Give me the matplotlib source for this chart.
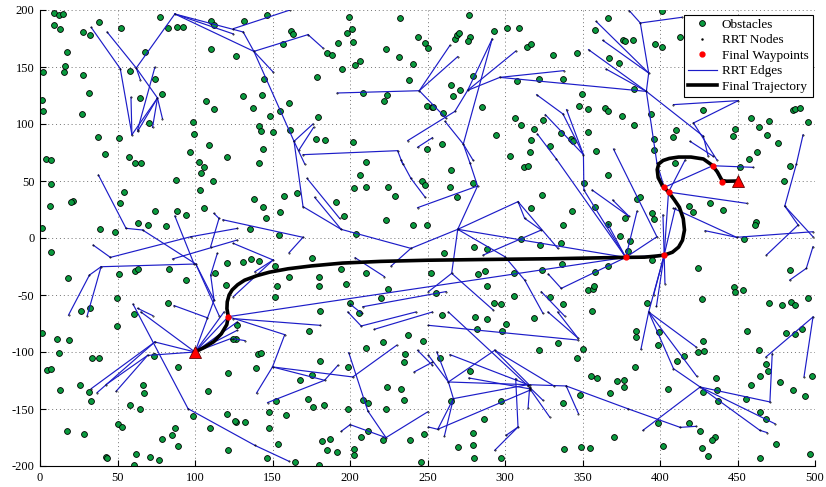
import numpy as np
import matplotlib
matplotlib.use("Agg")
import matplotlib.pyplot as plt
from matplotlib.lines import Line2D

plt.rcParams['font.family'] = ['Liberation Serif', 'DejaVu Serif']
plt.rcParams['axes.unicode_minus'] = False

# ---------------- data ----------------
obstacles = [
    (9,197.7),(12,195.9),(15,196.5),(9,186.5),(12.6,183.6),(38.3,189.5),(27.8,180.7),(32.1,177.8),(52.3,184.5),
    (77.1,193.6),(82.9,184.5),(88.7,184.8),(92.3,184.8),(110.1,190.6),(112.2,187.1),(17.3,162.8),(16.3,150.9),
    (15.8,145.3),(2.1,145.6),(67.7,163.2),(110.5,166.1),(126.6,159.6),(57.8,146.2),(74.5,139.7),(27.8,143),
    (31.9,127.2),(78.4,126.6),(64.3,122.5),(1.3,121),(2.1,111.4),(107.3,120.5),(112.2,113.4),(27.2,109),
    (70.3,100.9),(98.8,102),(37.7,88.6),(51.2,87.7),(99.4,91.5),(109,81.9),(42.2,73.7),(57.2,70.7),(96.6,75.4),
    (120.8,71),(4.1,69.3),(7.3,68.1),(61.3,65.5),(65.3,65.8),
    (131.8,190.1),(146.3,195.9),(162.2,181.3),(163.5,178.9),(156.6,170.2),(199.2,194.1),(201.4,183.6),(198.2,179.8),
    (201.8,172),(192.2,170.8),(185.3,162.3),(188.3,160.2),(206.3,155.6),(203.3,151.5),(195,148),(232.5,193),
    (243.8,176.6),(248.7,171),(250.2,166.6),(223,165.5),(231.4,158.8),(240.4,152.6),(178.5,141.5),(238.2,138.9),
    (144.2,139.2),(130.7,124.2),(143.1,125.7),(208.5,127.2),(223.9,125.1),(222,120.5),(160.9,118.7),(137.1,114),
    (154.7,111.1),(148.7,106.7),(179.5,105.8),(249.6,115.5),(252.8,114.6),(141.2,97.9),(142.5,93.6),(150,93),
    (161.3,94.4),(178,86.8),(184,85.7),(202,84.2),(144,77.7),(249.6,78.4),(141.2,65.5),(210.2,66.4),
    (276.7,195.3),(293,181.3),(301.2,184.2),(309.1,184.2),(267.7,174.8),(269,177.8),(270.5,179.5),(277.2,176),
    (275.9,172.5),(314.4,167.8),(316.8,170.2),(330.9,160.8),(346.6,162.3),(366.5,193),(357.9,182.2),(376.3,173.4),
    (366.9,157.9),(373.8,153.5),(279.1,141.8),(322.2,139.2),(337.1,139.7),(308,137.7),(265.4,134.5),(270.7,129.8),
    (266.2,124.6),(253.6,114.6),(260.2,109.9),(285.1,115.2),(349.8,126.3),(348,116),(353.6,113.4),(364.8,114.3),
    (366.3,111.7),(375.7,106.7),(306.7,105.3),(310.2,98.8),(324.5,103.2),(318.5,95.3),(294.3,90.4),(259.4,82.7),
    (336.1,92.1),(342.9,87.1),(344,85.4),(353.4,92.7),(316.8,86.3),(328.8,80.4),(303.1,72.2),(316,75.2),(358.4,76.6),
    (401.2,198.8),(377.7,173.1),(382.4,173.4),(396.5,170.5),(401.2,167.6),(413,176),(383,131),(428,112.3),
    (394.2,108.7),(383,98.8),(410.2,94.7),(408.7,88.9),(396.3,86.8),(395.9,77.2),(409.8,65.5),(448.4,95.9),
    (447.3,89.2),(458.6,105.3),(464,97.4),(470.2,102.3),(469.1,90.1),(476.4,83.3),(462.7,75.2),(457.6,69.6),
    (485.9,112.3),(487.1,113.4),(490.6,114),(495.7,101.7),
    (102.6,66.6),(105.6,62),(103.7,57.3),(7.3,47.3),(87.8,50.9),(111.8,49.7),(103.2,42.4),(54.4,40.6),(21.6,32.7),
    (20.3,31.6),(6.2,28),(51.6,30.7),(74.1,23.4),(88.7,23.4),(94.5,20.4),(105.8,26),(63.4,12.8),(69.8,11.1),
    (81.2,10.5),(38.5,7.6),(48.2,5),(1.5,8.8),(7.3,-12),(120.8,-22.2),(51.2,-31.9),(61.5,-28.7),(63.4,-27.5),
    (83.1,-27.2),(112.9,-30.4),(94.5,-37.2),(17.8,-34.8),(120,-41.2),(49.5,-53),(82.3,-56.7),(32.3,-61.7),(26.6,-63.8),
    (206.5,55.5),(202.5,44.1),(210.2,45),(224.5,44.7),(229,37.1),(246.2,50.3),(248.7,46.2),(138.2,33.9),(157.3,36.5),
    (166,39.7),(143.6,26.9),(154.7,22.5),(145.7,17.5),(191.1,31.6),(196.3,19.3),(223.5,15.8),(240.4,11.7),
    (249.4,11.7),(135.8,7.6),(154.5,2.6),(204,3.8),(130.7,-20.8),(136.1,-18.2),(141.6,-20.5),(151.9,-24.6),
    (175.3,-17.3),(193.9,-27.5),(210.6,-30.4),(160.7,-34.2),(180,-34.2),(180.2,-42.4),(153,-42.4),(197.3,-40.1),
    (224.3,-44.5),(151.7,-51.8),(220,-52.7),(200.1,-57),(180.8,-64.1),(205.7,-65.8),
    (265,59.6),(312.1,62),(314.7,63.1),(366.7,55.5),(279.1,47.9),(264.7,44.4),(269,35.7),(324.1,38),(317,26.6),
    (343.1,24),(350.9,48.5),(358.1,26.9),(337.4,11.1),(366.5,12.6),(374.2,1.7),(377.6,17.5),(279.7,-8.2),
    (288.7,-9.9),(260.5,-12.9),(310,-0.9),(322.8,-6.2),(335.9,-4.1),(282.3,-31.6),(287.2,-28.7),(306.1,-31),
    (323.9,-28.1),(336.5,-23.1),(358.1,-30.1),(366.5,-24.6),(252.3,-30.4),(288.3,-42.1),(255.3,-48.6),(353.4,-45.6),
    (356.6,-45.1),(357.1,-41.8),(305.7,-50.6),(329.2,-52.1),(292.6,-57.3),(297.5,-57.9),(337.6,-58.2),(259.4,-67.3),
    (356.2,-63.8),
    (451.6,62),(484.1,63.1),(480.3,50.3),(385.2,33.9),(387.3,36.2),(418.8,28),(421.2,22.5),(432.3,30.4),(440.4,24.5),
    (394.6,21.6),(396.3,16.4),(461.9,14.3),(461.2,11.1),(380.9,-2.4),(379.6,-11.1),(394.6,-19.3),(454.1,-1.2),
    (424.2,-26.1),(483.7,-28.1),(448,-43.3),(448.6,-47.7),(453.3,-45.6),(427.2,-53.8),(391.6,-57.3),(470.4,-57.3),
    (478.8,-58.8),(484.8,-55.9),(487.1,-59.1),(495.7,-52.7),
    (1.3,-83),(11.1,-88.9),(18.8,-89.2),(49.7,-77.2),(60.8,-66.4),(12.2,-100.9),(33.6,-105.5),(38.1,-105.5),
    (4.7,-116.1),(7.3,-114.9),(73.3,-103.5),(89.1,-113.1),(25.5,-128.6),(12.8,-133),(31.7,-135.1),(33,-143),
    (66.4,-129.2),(66.8,-136),(57.8,-146.8),(64.5,-150.3),(121.5,-118.7),(108.4,-134.5),(126.4,-88.9),(98.7,-156.4),
    (120.4,-154.7),(126.2,-161.4),(109.7,-166.7),(50.1,-162.9),(52.9,-166.1),(17.6,-169.6),(28.5,-171.6),(87,-166.7),
    (85.3,-172.5),(78.6,-176.3),(89.1,-182.4),(121,-186.2),(42.4,-192.1),(43.5,-193),(62.1,-189.8),(70.7,-192.1),
    (76.9,-195),(60.8,-198.8),
    (126.8,-76),(124.7,-88.3),(140.8,-101.5),(142.9,-100.9),(139.3,-114),(173.5,-81.9),(180.4,-107.6),(175.7,-120.5),
    (167.5,-124.8),(198.6,-113.1),(210,-96.5),(221.1,-91.2),(237.2,-85.4),(246.8,-90.1),(235.5,-102),(234.6,-109),
    (223.9,-130.4),(233.1,-132.7),(234.6,-142.4),(208.2,-142.4),(211.5,-144.4),(223.5,-150.3),(198.4,-150.3),
    (152.5,-143.3),(173.1,-141.5),(176.1,-147.9),(183.4,-146.5),(147.8,-152.6),(159,-155.5),(125.8,-160.8),
    (132.2,-161.7),(147.6,-166.7),(211.5,-169.3),(206.8,-174.5),(221.1,-177.5),(238.9,-177.5),(247.5,-172.2),
    (181.9,-178.1),(187.3,-176),(153.4,-181),(185.1,-185.7),(191.8,-188),(202.9,-184.8),(202.3,-190.6),(146.5,-193),
    (164.8,-196.5),(179.8,-198.8),(245.7,-196.5),
    (280.8,-69.3),(288.7,-71),(300.7,-75.7),(298.2,-81.9),(281.9,-79.5),(318.9,-70.2),(334.1,-92.1),(350,-97.4),
    (346.4,-105),(321.7,-98.5),(258.3,-105.5),(277.2,-117),(355.6,-121),(359.2,-122.8),(372.3,-125.7),(377,-124.3),
    (377,-130.4),(368,-135.7),(348.3,-137.7),(337.1,-145),(297.3,-142.7),(265.4,-143.3),(286.2,-158.5),(279.1,-171),
    (370.6,-174.5),(269.7,-183.3),(279.1,-181.9),(338.2,-185.1),(349.1,-183.6),(355.1,-183.9),(279.7,-193),(297.1,-193),
    (384.7,-81.9),(384.7,-87.1),(399.1,-82.4),(398.9,-93.6),(428,-90.6),(428.4,-98.8),(424.2,-100.3),(415.4,-103.5),
    (410.9,-107.9),(456.3,-81.6),(463.6,-98.2),(481.1,-83.3),(487.4,-84.5),(491.6,-79.5),(384.1,-113.1),(405.3,-132.2),
    (436.4,-122.8),(428,-135.1),(436.6,-133.6),(437.2,-143.3),(468.1,-110.2),(469.4,-116.9),(464.6,-121.3),
    (477.1,-126.3),(458.6,-129.2),(485.9,-133),(493.4,-138.9),(498.3,-121.3),(455.2,-141.5),(464.6,-152.6),
    (468.7,-159),(398.7,-162),(419,-162.3),(426.1,-169.3),(435.7,-174.8),(433.4,-177.5),(401.7,-182.7),(427.2,-184.5),
    (474.7,-180.4),(431,-191.2),(464.6,-192.7),(497,-189.5),
]

# tree edges (x0, y0, x1, y1)
rrt_edges = [
    (33,184.8,51.8,148.5),(51.8,148.5,59.3,90.6),(58.7,123.4,59.3,90.6),(43.3,180.7,62.1,149.1),
    (62.1,149.1,75.8,122.8),(62.1,149.1,87,196.5),(62.1,149.1,64.7,138.9),(59.3,90.6,75.8,122.8),
    (63,93.6,75.8,122.8),(72.6,97.1,75.8,122.8),(74.1,149.7,63,95),(75.8,122.8,79,104.7),
    (87,196.5,131.1,180.7),(87,196.5,138,163.7),(87,196.5,124.7,179),(124.7,183.6,161.1,199.9),
    (131.1,180.7,138,163.7),(138,163.7,150.4,145.6),(138,163.7,172.9,178.4),(172.9,178.4,182.5,166.7),
    (138,163.7,163.9,84.8),(163.9,84.8,176.1,100),(163.9,84.8,170.8,64.9),(167,77,176.5,97),
    (169.7,73.1,230.7,76.6),(230.7,76.6,234,64.9),(191.8,127.2,244.7,129.2),(244.7,129.2,264.5,169),
    (244.7,129.2,269.5,159.1),(244.7,129.2,262,105),(237.2,85.4,267.7,111.1),(243.6,79.6,253.2,88),
    (267.7,111.1,275.9,129.5),(275.9,129.5,291.7,174.5),(275.9,129.5,307,164),(275.9,129.5,296.7,140.9),
    (296.7,140.9,338,146.8),(296.7,140.9,391.2,128.6),(291.7,174.5,273.1,82.4),(273.1,82.4,277.4,65.8),
    (273.1,82.4,279.5,68),(261.3,102.3,273.1,82.4),(320.4,125.7,337.4,108.8),(337.4,108.8,350.6,73.1),
    (326,108.2,350.6,73.1),(339.7,112.6,350.6,73.1),(320.9,91.2,333,69.5),(350.6,73.1,350.9,42.1),
    (358.8,190,392.7,144.7),(363.1,173.4,392.7,144.7),(353.9,165.2,391.2,128.6),(365.2,148.2,391.2,128.6),
    (380.2,199.4,387.3,188.6),(387.3,188.6,414.1,193.6),(387.3,188.6,392.7,144.7),(392.7,144.7,391.2,128.6),
    (391.2,128.6,398,65.8),(398,65.8,402.7,44.4),(391.2,128.6,428,89.2),(428,89.2,431,72),
    (408.7,117,450.5,120.5),(450.5,120.5,421.6,100.9),(421.6,100.9,436.6,68.7),(419.4,84.8,434.4,71.6),
    (492.3,90.6,488,65),(488,65,480.5,28),
    (37.7,55.2,55.5,8.5),(55.5,8.5,66.2,7),(66.2,7,100.5,-22.8),(87,19.3,99.4,-22.8),(34.3,-6.2,45.4,-17),
    (45.4,-17,97.2,1.1),(97.2,1.1,127.2,8.4),(39.4,-25.2,100.5,-22.8),(39.4,-25.2,31.9,-32.5),
    (31.9,-32.5,18.4,-67.6),(39.4,-25.2,30.4,-68.4),(100.5,-22.8,112.3,-54.4),(100.5,-22.8,115.5,-68),
    (85.5,-18.4,127.2,-1.8),(112.2,21.6,115.5,17.2),(115.5,17.2,110.1,-7.6),(114.4,-13.5,110.1,-32.5),
    (110.1,-32.5,112.3,-54.4),(63,-61.7,72.6,-68),(86.5,-59.3,108,-70),
    (100,-100,121.5,-69),(100,-100,118.7,-64.9),(100,-100,127.2,-73.7),(100,-100,127.2,-81),(100,-100,123,-88.3),
    (100,-100,112.3,-54.4),(100,-100,74.1,-91.2),(74.1,-91.2,33,-132.2),(74.1,-91.2,36.8,-135.7),
    (69.4,-103,100,-100),(69.4,-103,49.1,-134.5),(69.4,-103,42.6,-128.6),(65.1,-64.9,100,-100),
    (60,-58,95.5,-149.7),(95.5,-149.7,138.6,-181.9),(138.6,-181.9,160.7,-195.9),
    (163.9,84.8,169.7,27.5),(172.3,52.3,193.3,17.2),(169.7,27.5,194.3,7.6),(177.2,35.7,194.3,7.6),
    (194.3,7.6,239.3,-9.1),(239.3,-9.1,226.5,-24.6),(239.3,-9.1,269.5,7.6),(118,16,169.7,0.6),
    (169.7,0.6,160.7,-12.9),(124.7,-4.7,150.4,-19.3),(150.4,-19.3,138.6,-29.6),(150.4,-19.3,124.7,-51.5),
    (203.3,-17.3,222.2,-33.9),(121.5,-69,377.9,-17),(208.2,-60.3,262,-47),(232.9,68.4,239.3,52.3),
    (239.3,52.3,248.5,35.7),(243.6,26.6,282.3,45.6),(200,-58,207.5,-66),
    (282.3,45.6,269.5,7.6),(277.4,65.8,282.3,45.6),(269.5,7.6,308.4,31.9),(308.4,31.9,312.7,17.2),
    (312.7,17.2,323.4,7),(308.4,31.9,334.1,-9.1),(269.5,7.6,377.9,-17),(269.5,7.6,265.6,-31),
    (269.5,7.6,299.9,-16.4),(299.9,-16.4,312.7,-36.9),(312.7,-36.9,324.5,-66.1),(285.9,-15,323.4,7),
    (327.9,-31.6,336.3,-44.2),(336.3,-44.2,377.9,-17),(333,69.5,377.9,-17),(350.9,42.1,377.9,-17),
    (356.2,42.1,380,19),(369.5,33.3,380,19),(366.3,12.3,377.9,-17),(265.6,-31,292.4,-63.2),
    (265.6,-31,250.6,-47.1),(323.4,-47.1,338.4,-68.4),
    (402.7,-14.9,392.7,-64.9),(402.7,-14.9,397.7,-60),(402.7,-14.9,403.2,-40),(402.7,-14.9,395.9,-50),
    (402.7,-14.9,401.9,20.2),(402.7,-14.9,409.8,26),(377.9,-17,398,1.1),(377.9,-17,385.2,23.5),
    (405.5,40.3,416.2,68.4),(434,63.4,460.1,62),(405.5,40.3,455.9,30.4),(408.7,26,449.4,0.6),
    (449.4,0.6,429.1,6.4),(449.4,0.6,498.7,5.5),(489.1,11.4,468.7,-14.9),(489.1,11.4,480.5,28),
    (480.5,28,498.7,1.1),(494.4,-26.6,483.7,-36.9),(494.4,-26.6,498.7,-7.6),(370,78,398,1.1),
    (378,-17,402.7,-14.9),(402.7,-14.9,405.5,40.3),(405.5,40.3,402.7,44.4),(402.7,44.4,434,63.4),
    (434,63.4,440,49.4),(440,49.4,450,50),
    (124.7,-70.7,180.8,-76.6),(121.5,-69,157.9,-84.8),(157.9,-84.8,150,-113.1),(124.7,-88.3,132.2,-90),
    (150,-113.1,139.7,-136),(150,-113.1,201.8,-121.9),(150,-113.1,183.6,-124.8),(183.6,-124.8,192.2,-111.7),
    (183.6,-124.8,146.8,-144.4),(199.2,-100.6,211.5,-151.7),(211.5,-151.7,223.2,-175.1),
    (201.8,-121.9,230.1,-94.1),(223.2,-175.1,250,-152.6),(200.1,-163.7,223.2,-175.1),(194.3,-169.6,200.1,-163.7),
    (243.6,-98.5,253.2,-111.7),(241.4,-117.5,253.2,-108.9),(207.2,-77.2,242.5,-64.9),(215.7,-80.1,253.2,-64.9),
    (198.6,-64.9,207.2,-77.2),
    (250.6,-76.6,347,-89.5),(327.7,-64.9,347,-87.7),(334,-64.9,347,-87.7),(263.5,-64.9,314.9,-129.8),
    (263.5,-126.3,293.4,-98.5),(293.4,-98.5,315.9,-129.2),(293.4,-98.5,331.6,-129.8),(263.5,-126.3,339.5,-129.8),
    (339.5,-129.8,379.1,-149.7),(339.5,-129.8,347.4,-154.1),(264.5,-102.3,315.9,-129.2),(276.7,-122.8,315.9,-132.3),
    (263.5,-126.3,266.7,-140.9),(266.7,-140.9,256.6,-167.8),(256.6,-167.8,315.9,-133.6),(266.7,-140.9,314.9,-128.6),
    (250.6,-102.9,263.5,-126.3),(256,-100,263.5,-126.3),(306.9,-123.4,308.4,-165.8),(308.4,-165.8,293.4,-186.2),
    (308.4,-165.8,300.7,-173.1),(315.9,-131,314.9,-149.1),(315.9,-132,328.8,-157),(315.9,-131,324.5,-142.4),
    (250.6,-165.8,256.6,-167.8),(260.9,-173.7,266.7,-140.9),
    (392.7,-64.9,387.7,-97.6),(392.7,-64.9,423.3,-95.6),(392.7,-64.9,423.7,-121.3),(392.7,-64.9,408.7,-114.6),
    (408.7,-114.6,425.9,-130.7),(425.9,-130.7,470.9,-143.8),(470.9,-143.8,472.4,-101.5),(425.9,-130.7,474.1,-162.9),
    (425.9,-130.7,464.4,-168.7),(464.4,-168.7,469.1,-170.7),(425.9,-130.7,389,-168.7),(379.1,-149.7,413,-166.1),
    (413,-166.1,423.3,-165.2),(468.3,-104.4,498.7,-69.3),(498.7,-69.3,492.9,-121.9),
]

waypoints_x = [121.5, 378, 402.7, 405.5, 402.7, 434, 440]
waypoints_y = [-69, -17, -14.9, 40.3, 44.4, 63.4, 49.4]
start = (100, -100)
goal = (450, 50)

traj_x = [100, 106, 112, 117, 120.5, 121.5, 120.6, 120.8, 122, 124, 127.5, 132, 140, 148, 160, 175, 195, 220,
          250, 290, 330, 365, 378, 390, 398, 403, 408, 412, 414.5, 415.8, 415, 412.5, 409, 405.5, 401.5, 398.8,
          398.2, 399.2, 402, 406, 412, 420, 428, 433.5, 437, 440, 443, 450]
traj_y = [-100, -96, -91, -84, -76, -69, -62, -56, -50, -45.5, -41, -37, -33, -30, -27, -24.5, -22, -20.5,
          -19.5, -18.8, -18.2, -17.3, -17, -16.8, -15.8, -14.9, -12.5, -8, -2, 7, 17, 27, 34, 40.3, 46, 53,
          60, 65, 68, 69.8, 71, 71, 69.3, 64, 58, 50.5, 49.8, 50]

# ---------------- plot ----------------
fig = plt.figure(figsize=(8.26, 4.87), dpi=100)
ax = fig.add_axes([40/826, 21/487, 775/826, 456/487])

obs = np.array(obstacles)
ax.plot(obs[:, 0], obs[:, 1], 'o', ms=4.2, mfc='#0a9a3e', mec='k', mew=0.6, zorder=2)

edges = np.array(rrt_edges)
for x0, y0, x1, y1 in edges:
    ax.plot([x0, x1], [y0, y1], '-', color='#1c1cc8', lw=0.85, zorder=3)

nodes = np.unique(np.vstack([edges[:, :2], edges[:, 2:]]), axis=0)
ax.plot(nodes[:, 0], nodes[:, 1], '.', color='k', ms=0.8, zorder=3.5)

ax.plot(traj_x, traj_y, '-', color='k', lw=2.6, zorder=4, solid_capstyle='round')
ax.plot(waypoints_x, waypoints_y, 'o', ms=3.5, mfc='red', mec='red', zorder=5)
ax.plot([start[0], goal[0]], [start[1], goal[1]], '^', ms=8, mfc='red', mec='#600000', mew=0.6, zorder=6)

ax.set_xlim(0, 500)
ax.set_ylim(-200, 200)
ax.set_xticks(np.arange(0, 501, 50))
ax.set_yticks(np.arange(-200, 201, 50))
ax.grid(True, color='0.45', linestyle=(0, (1, 3)), linewidth=0.7)
ax.set_axisbelow(True)
ax.spines['top'].set_visible(False)
ax.spines['right'].set_visible(False)
ax.tick_params(direction='in', length=4, labelsize=9, pad=4)

handles = [
    Line2D([], [], ls='none', marker='o', ms=4.2, mfc='#0a9a3e', mec='k', mew=0.6),
    Line2D([], [], ls='none', marker='.', ms=1.5, color='k'),
    Line2D([], [], ls='none', marker='o', ms=3.5, mfc='red', mec='red'),
    Line2D([], [], color='#1c1cc8', lw=0.85),
    Line2D([], [], color='k', lw=2.6),
]
labels = ['Obstacles', 'RRT Nodes', 'Final Waypoints', 'RRT Edges', 'Final Trajectory']
leg = ax.legend(handles, labels, loc='upper right', bbox_to_anchor=(0.997, 0.99), fontsize=9.5,
                frameon=True, fancybox=False, framealpha=1, edgecolor='k', borderpad=0.3,
                labelspacing=0.25, handlelength=2.2, handletextpad=0.4, borderaxespad=0)
leg.get_frame().set_linewidth(0.8)
leg.set_zorder(10)

fig.savefig('out.png', dpi=100)
